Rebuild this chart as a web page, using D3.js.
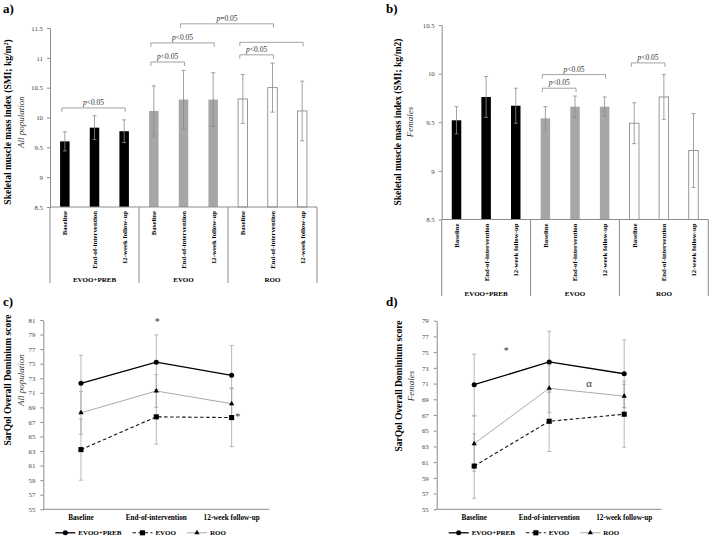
<!DOCTYPE html>
<html>
<head>
<meta charset="utf-8">
<script src="https://cdn.jsdelivr.net/npm/d3@7"></script>
<style>
  body { margin: 0; background: #fff; }
  svg { font-family: "Liberation Serif", "Times New Roman", serif; }
</style>
</head>
<body>
<svg id="fig" width="709" height="537"></svg>
<script>
// ---- data ----
var groups = ["EVOO+PREB", "EVOO", "ROO"];
var timepoints = ["Baseline", "End-of-intervention", "12-week follow-up"];

// a) SMI, all population (mean, sd) per group x timepoint
var smiAllMean = [[9.6, 9.83, 9.77], [10.11, 10.3, 10.3], [10.31, 10.5, 10.11]];
var smiAllSd   = [[0.16, 0.2, 0.19], [0.42, 0.49, 0.45], [0.41, 0.41, 0.5]];
var smiAllTicks = [8.5, 9, 9.5, 10, 10.5, 11, 11.5];
var smiAllBrackets = [
  { from: 0, to: 2, level: 10.16, label: "<0.05" },
  { from: 3, to: 4, level: 10.93, label: "<0.05" },
  { from: 3, to: 5, level: 11.25, label: "<0.05" },
  { from: 6, to: 7, level: 11.05, label: "<0.05" },
  { from: 6, to: 8, level: 11.26, label: "" },
  { from: 4, to: 7, level: 11.57, label: "=0.05" }
];

// b) SMI, females
var smiFemMean = [[9.52, 9.76, 9.67], [9.54, 9.66, 9.66], [9.49, 9.76, 9.21]];
var smiFemSd   = [[0.14, 0.21, 0.18], [0.12, 0.11, 0.1], [0.21, 0.23, 0.38]];
var smiFemTicks = [8.5, 9, 9.5, 10, 10.5];
var smiFemBrackets = [
  { from: 3, to: 4, level: 9.85, label: "<0.05" },
  { from: 3, to: 5, level: 9.99, label: "<0.05" },
  { from: 6, to: 7, level: 10.11, label: "<0.05" }
];

// c) SarQol, all population
var qolAllMean = [[72.3, 75.2, 73.4], [63.2, 67.7, 67.6], [68.25, 71.25, 69.5]];
var qolAllSd   = [[3.85, 3.75, 4.1], [4.2, 3.75, 4.0], [2.95, 2.25, 2.15]];
var qolAllTicks = d3.range(55, 82, 2);

// d) SarQol, females
var qolFemMean = [[70.85, 73.75, 72.25], [60.5, 66.2, 67.1], [63.35, 70.4, 69.4]];
var qolFemSd   = [[3.9, 3.9, 4.3], [4.1, 3.85, 4.2], [3.5, 3.1, 1.5]];
var qolFemTicks = d3.range(55, 80, 2);

var svg = d3.select("#fig");
var barFill = ["#000000", "#a6a6a6", "#ffffff"];

function yLabel(cx, cy, xb, xi, main, sub) {
  svg.append("text")
    .attr("transform", "translate(" + xb + "," + cy + ") rotate(-90)")
    .attr("text-anchor", "middle").attr("dy", "0.35em")
    .attr("font-size", 9.5).attr("font-weight", "bold")
    .html(main);
  svg.append("text")
    .attr("transform", "translate(" + xi + "," + cy + ") rotate(-90)")
    .attr("text-anchor", "middle").attr("dy", "0.35em")
    .attr("font-size", 9).attr("font-style", "italic").attr("fill", "#333")
    .text(sub);
}

function styleAxis(sel) {
  sel.select(".domain").attr("stroke", "#8c8c8c");
  sel.selectAll(".tick line").attr("stroke", "#8c8c8c");
  sel.selectAll(".tick text").attr("fill", "#444").attr("font-size", 6.8)
    .attr("font-family", "Liberation Serif, serif");
}

function barPanel(o) {
  var g = svg.append("g");
  var x = d3.scaleBand().domain(d3.range(9)).range([o.x0, o.x1]);
  var y = d3.scaleLinear().domain([o.ticks[0], o.ticks[o.ticks.length - 1]]).range([o.yBase, o.yTop]);
  var bw = 9.5;
  var rows = [];
  groups.forEach(function(grp, gi) {
    timepoints.forEach(function(tp, ti) {
      rows.push({ i: gi * 3 + ti, gi: gi, tp: tp, m: o.mean[gi][ti], sd: o.sd[gi][ti] });
    });
  });
  function cx(i) { return x(i) + x.bandwidth() / 2; }

  g.selectAll("rect.bar").data(rows).join("rect")
    .attr("x", function(d) { return cx(d.i) - bw / 2; })
    .attr("y", function(d) { return y(d.m); })
    .attr("width", bw)
    .attr("height", function(d) { return o.yBase - y(d.m); })
    .attr("fill", function(d) { return barFill[d.gi]; })
    .attr("stroke", function(d) { return d.gi == 2 ? "#7f7f7f" : "none"; })
    .attr("stroke-width", 0.8);

  // error bars
  var eb = g.selectAll("g.err").data(rows).join("g").attr("stroke", "#8a8a8a").attr("stroke-width", 0.8);
  eb.append("line")
    .attr("x1", function(d) { return cx(d.i); }).attr("x2", function(d) { return cx(d.i); })
    .attr("y1", function(d) { return y(d.m + d.sd); }).attr("y2", function(d) { return y(d.m - d.sd); });
  [1, -1].forEach(function(s) {
    eb.append("line")
      .attr("x1", function(d) { return cx(d.i) - 2; }).attr("x2", function(d) { return cx(d.i) + 2; })
      .attr("y1", function(d) { return y(d.m + s * d.sd); }).attr("y2", function(d) { return y(d.m + s * d.sd); });
  });

  // y axis
  var ax = g.append("g").attr("transform", "translate(" + o.x0 + ",0)")
    .call(d3.axisLeft(y).tickValues(o.ticks).tickSize(3).tickSizeOuter(0).tickPadding(4).tickFormat(function(d) { return d; }));
  styleAxis(ax);

  // category box
  g.append("line").attr("x1", o.x0).attr("x2", o.x1).attr("y1", o.yBase).attr("y2", o.yBase)
    .attr("stroke", "#8c8c8c");
  var gw = (o.x1 - o.x0) / 3;
  g.selectAll("line.sep").data(d3.range(4)).join("line")
    .attr("x1", function(k) { return o.x0 + k * gw; }).attr("x2", function(k) { return o.x0 + k * gw; })
    .attr("y1", o.yBase).attr("y2", o.sepBottom)
    .attr("stroke", "#8c8c8c");
  g.selectAll("text.cat").data(rows).join("text")
    .attr("transform", function(d) { return "translate(" + (cx(d.i) + 2.4) + "," + (o.yBase + 4) + ") rotate(-90)"; })
    .attr("text-anchor", "end").attr("font-size", 6.8).attr("font-weight", "bold")
    .text(function(d) { return d.tp; });
  g.selectAll("text.grp").data(groups).join("text")
    .attr("x", function(d, k) { return o.x0 + (k + 0.5) * gw; })
    .attr("y", o.groupY)
    .attr("text-anchor", "middle").attr("font-size", 7).attr("font-weight", "bold")
    .text(function(d) { return d; });

  // significance brackets
  var br = g.selectAll("g.br").data(o.brackets).join("g");
  br.append("path")
    .attr("d", function(d) {
      var xa = cx(d.from) - 3, xb = cx(d.to) + 1, yb = y(d.level);
      return "M" + xa + "," + (yb + 4) + "V" + yb + "H" + xb + "V" + (yb + 4);
    })
    .attr("fill", "none").attr("stroke", "#8c8c8c").attr("stroke-width", 0.8);
  var bt = br.filter(function(d) { return d.label; }).append("text")
    .attr("x", function(d) { return (cx(d.from) - 3 + cx(d.to) + 1) / 2; })
    .attr("y", function(d) { return y(d.level) - 3; })
    .attr("text-anchor", "middle").attr("font-size", 7.5).attr("fill", "#333");
  bt.append("tspan").attr("font-style", "italic").text("p");
  bt.append("tspan").text(function(d) { return d.label; });
}

function linePanel(o) {
  var g = svg.append("g");
  var x = d3.scalePoint().domain(timepoints).range([o.x0, o.x1]).padding(0.5);
  var y = d3.scaleLinear().domain([o.ticks[0], o.ticks[o.ticks.length - 1]]).range([o.yBase, o.yTop]);
  var styles = [
    { stroke: "#000", width: 1.3, dash: null, sym: d3.symbolCircle, size: 20 },
    { stroke: "#111", width: 1.1, dash: "3.5,2.5", sym: d3.symbolSquare, size: 26 },
    { stroke: "#a0a0a0", width: 0.9, dash: null, sym: d3.symbolTriangle, size: 12 }
  ];
  var series = groups.map(function(name, gi) {
    return { name: name, st: styles[gi], pts: timepoints.map(function(tp, ti) {
      return { tp: tp, m: o.mean[gi][ti], sd: o.sd[gi][ti] };
    }) };
  });

  // error bars first
  series.forEach(function(s) {
    var e = g.append("g").attr("stroke", "#a6a6a6").attr("stroke-width", 0.8);
    s.pts.forEach(function(p) {
      var px = x(p.tp);
      e.append("line").attr("x1", px).attr("x2", px).attr("y1", y(p.m + p.sd)).attr("y2", y(p.m - p.sd));
      e.append("line").attr("x1", px - 2).attr("x2", px + 2).attr("y1", y(p.m + p.sd)).attr("y2", y(p.m + p.sd));
      e.append("line").attr("x1", px - 2).attr("x2", px + 2).attr("y1", y(p.m - p.sd)).attr("y2", y(p.m - p.sd));
    });
  });

  var line = d3.line().x(function(p) { return x(p.tp); }).y(function(p) { return y(p.m); });
  series.forEach(function(s) {
    g.append("path").datum(s.pts).attr("d", line)
      .attr("fill", "none").attr("stroke", s.st.stroke).attr("stroke-width", s.st.width)
      .attr("stroke-dasharray", s.st.dash);
    g.selectAll(null).data(s.pts).join("path")
      .attr("transform", function(p) { return "translate(" + x(p.tp) + "," + y(p.m) + ")"; })
      .attr("d", d3.symbol().type(s.st.sym).size(s.st.size))
      .attr("fill", "#000");
  });

  var ax = g.append("g").attr("transform", "translate(" + o.x0 + ",0)")
    .call(d3.axisLeft(y).tickValues(o.ticks).tickSize(3).tickSizeOuter(0).tickPadding(5));
  styleAxis(ax);
  g.append("line").attr("x1", o.x0).attr("x2", o.x1).attr("y1", o.yBase).attr("y2", o.yBase)
    .attr("stroke", "#8c8c8c");
  g.selectAll("text.cat").data(timepoints).join("text")
    .attr("x", function(d) { return x(d); }).attr("y", o.yBase + 11)
    .attr("text-anchor", "middle").attr("font-size", 7.2).attr("font-weight", "bold")
    .text(function(d) { return d; });

  // legend
  var lx = o.x0 + 12, ly = o.yBase + 23.5;
  series.forEach(function(s) {
    g.append("line").attr("x1", lx).attr("x2", lx + 20).attr("y1", ly).attr("y2", ly)
      .attr("stroke", s.st.stroke).attr("stroke-width", s.st.width).attr("stroke-dasharray", s.st.dash);
    g.append("path").attr("transform", "translate(" + (lx + 10) + "," + ly + ")")
      .attr("d", d3.symbol().type(s.st.sym).size(s.st.size)).attr("fill", "#000");
    var t = g.append("text").attr("x", lx + 23).attr("y", ly + 2.5)
      .attr("font-size", 7).attr("font-weight", "bold").text(s.name);
    lx += 23 + t.node().getComputedTextLength() + 11;
  });

  // annotations
  o.notes.forEach(function(n) {
    g.append("text").attr("x", x(timepoints[n.at]) + n.dx).attr("y", y(n.v))
      .attr("text-anchor", "middle").attr("font-size", n.size).attr("fill", "#333").text(n.txt);
  });
}

// panel letters
[["a)", 3, 13], ["b)", 386, 13], ["c)", 3, 306], ["d)", 386, 306]].forEach(function(l) {
  svg.append("text").attr("x", l[1]).attr("y", l[2]).attr("font-size", 13).attr("font-weight", "bold").text(l[0]);
});

barPanel({ x0: 50, x1: 317, yBase: 207, yTop: 28, sepBottom: 283, groupY: 282,
  ticks: smiAllTicks, mean: smiAllMean, sd: smiAllSd, brackets: smiAllBrackets });
yLabel(0, 122, 8, 21, "Skeletal muscle mass index (SMI; kg/m<tspan dy='-3' font-size='6'>2</tspan><tspan dy='3'>)</tspan>", "All population");

barPanel({ x0: 441.7, x1: 708.3, yBase: 219.5, yTop: 25, sepBottom: 296, groupY: 295.5,
  ticks: smiFemTicks, mean: smiFemMean, sd: smiFemSd, brackets: smiFemBrackets });
yLabel(0, 122, 398, 410, "Skeletal muscle mass index (SMI; kg/m2)", "Females");

linePanel({ x0: 43.3, x1: 269.3, yBase: 509.3, yTop: 320, ticks: qolAllTicks, mean: qolAllMean, sd: qolAllSd,
  notes: [{ at: 1, dx: 1, v: 80.3, txt: "*", size: 10 }, { at: 2, dx: 6, v: 67.3, txt: "*", size: 10 }] });
yLabel(0, 380, 8, 21, "SarQol Overall Dominium score", "All population");

linePanel({ x0: 436.7, x1: 661.7, yBase: 509.3, yTop: 320.7, ticks: qolFemTicks, mean: qolFemMean, sd: qolFemSd,
  notes: [{ at: 0, dx: 32, v: 74.8, txt: "*", size: 10 }, { at: 1, dx: 40, v: 70.6, txt: "α", size: 11 }] });
yLabel(0, 386, 399, 411, "SarQol Overall Dominium score", "Females");
</script>
</body>
</html>
